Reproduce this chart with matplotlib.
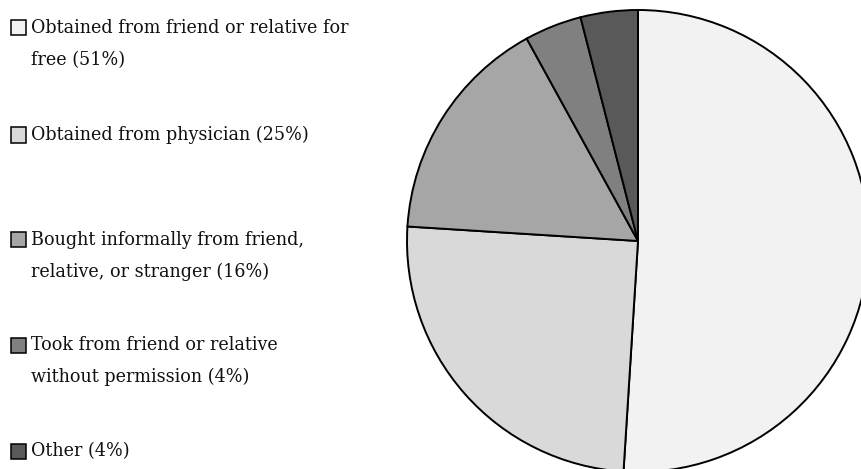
import matplotlib
matplotlib.use("Agg")
import matplotlib.pyplot as plt
from matplotlib.patches import Rectangle

categories = [
    "Obtained from friend or relative for\nfree (51%)",
    "Obtained from physician (25%)",
    "Bought informally from friend,\nrelative, or stranger (16%)",
    "Took from friend or relative\nwithout permission (4%)",
    "Other (4%)",
]
values = [51, 25, 16, 4, 4]
colors = ["#f2f2f2", "#d9d9d9", "#a6a6a6", "#808080", "#595959"]

W, H = 862, 469
fig = plt.figure(figsize=(W / 100, H / 100), dpi=100)

# Pie axes: center (638, 241) px, radius 231 px
cx, cy, r = 638, 241, 231
ax = fig.add_axes([(cx - r) / W, (H - (cy + r)) / H, 2 * r / W, 2 * r / H])
ax.pie(values, colors=colors, startangle=90, counterclock=False,
       wedgeprops=dict(edgecolor="black", linewidth=1.4), radius=1.0)
ax.set_xlim(-1, 1)
ax.set_ylim(-1, 1)
ax.set_aspect("equal")
ax.axis("off")

# Legend drawn manually
font = dict(family="DejaVu Serif", size=14, stretch="condensed")
entry_y = [28, 135, 240, 345, 451]
line_gap = 32
for lab, col, y in zip(categories, colors, entry_y):
    s = 15
    fig.patches.append(Rectangle((11 / W, (H - y - s / 2) / H), s / W, s / H,
                                 transform=fig.transFigure, facecolor=col,
                                 edgecolor="black", linewidth=1.1))
    for i, line in enumerate(lab.split("\n")):
        fig.text(31 / W, (H - (y + i * line_gap)) / H, line, va="center",
                 ha="left", color="#111111", **font)

fig.savefig("out.png", dpi=100)
